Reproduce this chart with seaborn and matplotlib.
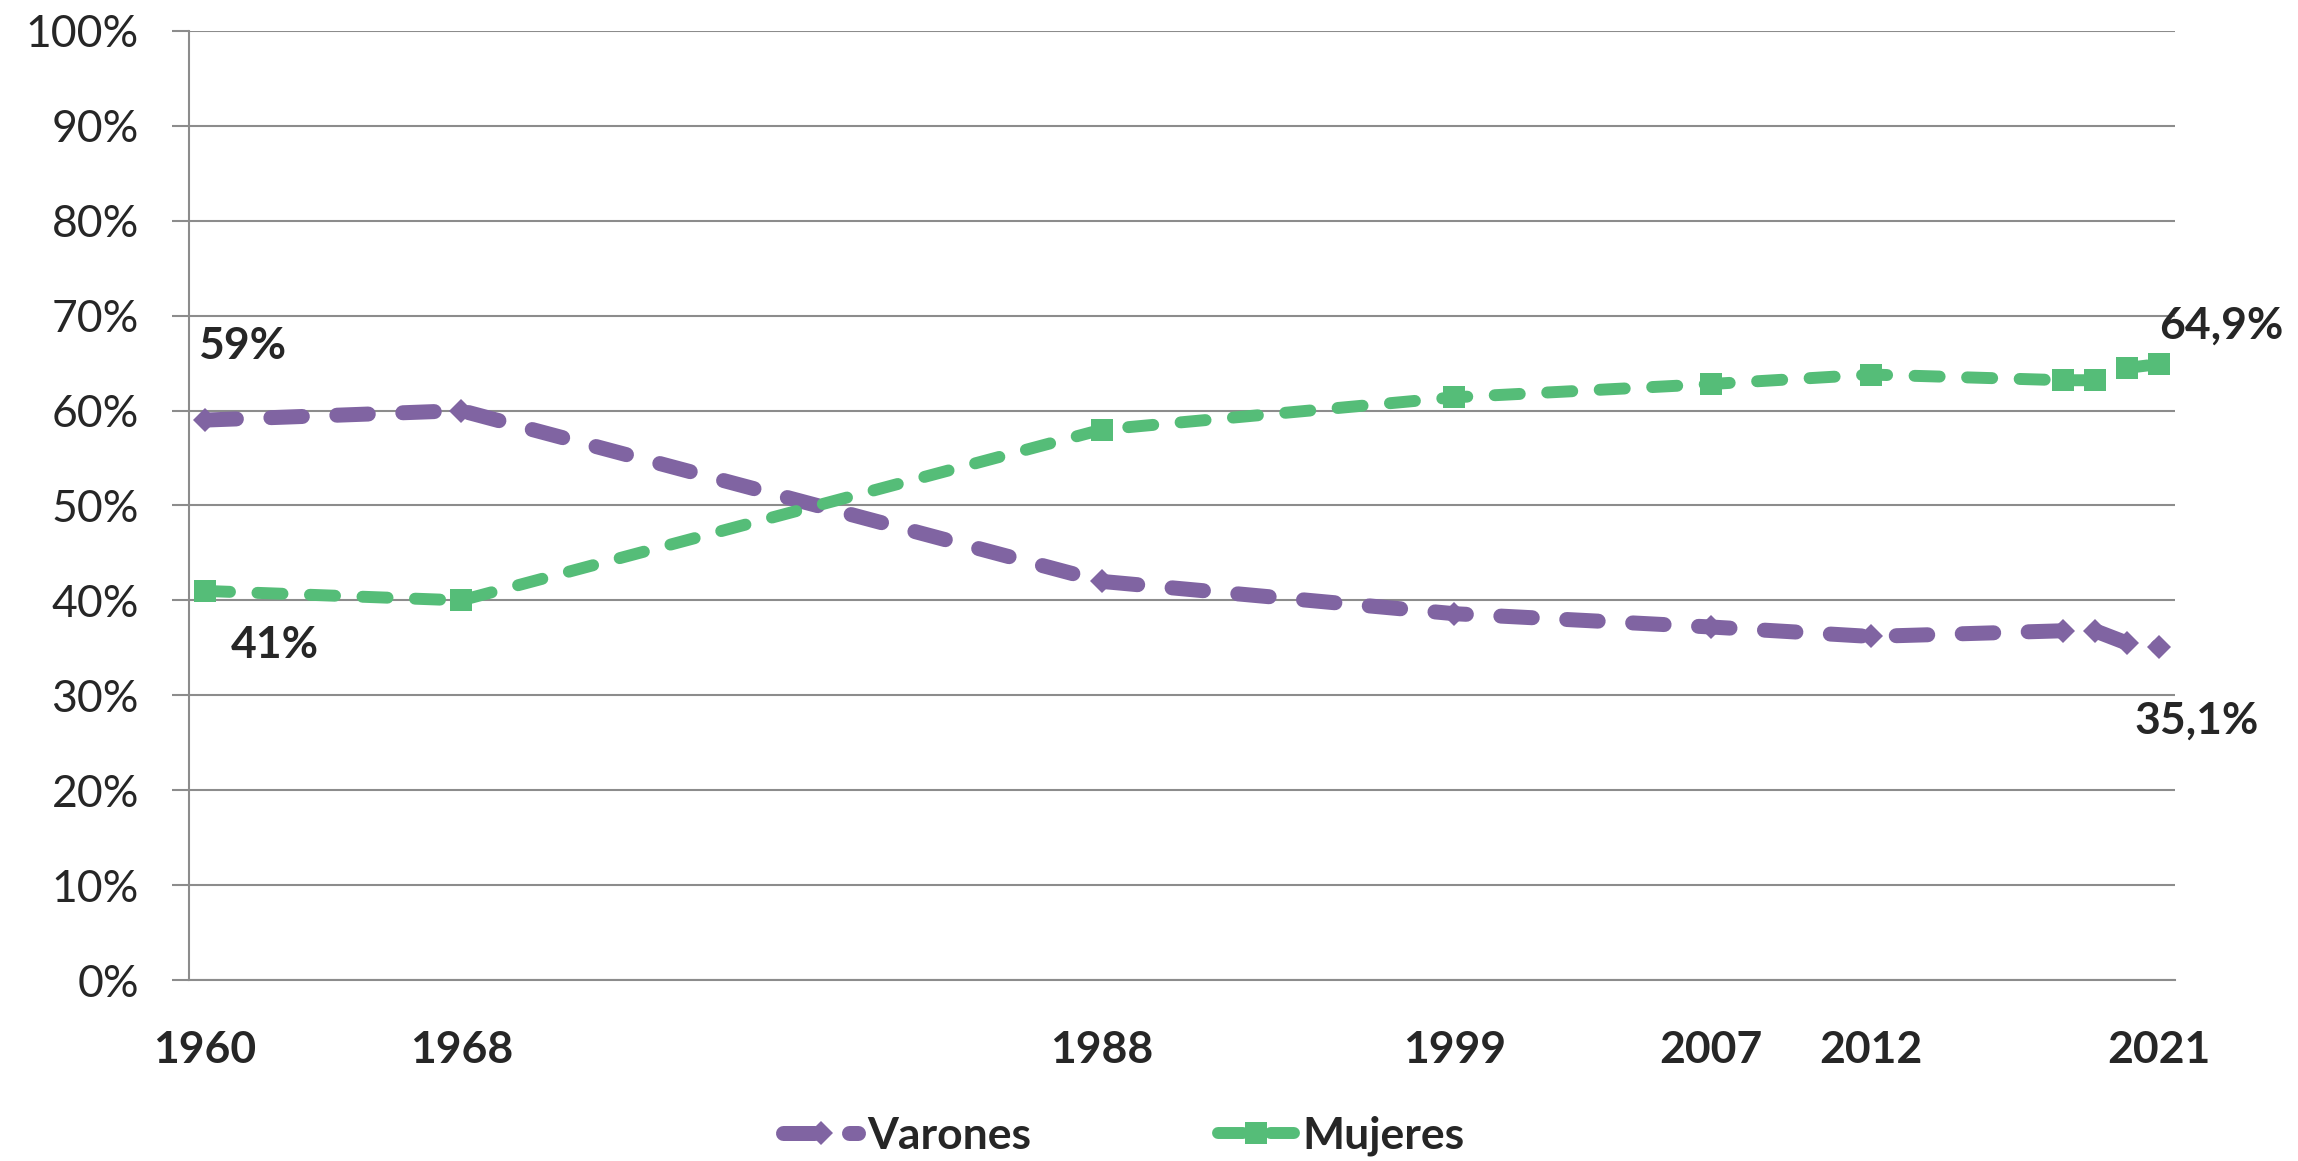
import numpy as np
import pandas as pd
import matplotlib
matplotlib.use("Agg")
import matplotlib.pyplot as plt
from matplotlib.ticker import FixedLocator, FuncFormatter
import seaborn as sns

# Datos (porcentaje por sexo)
anios = [1960, 1968, 1988, 1999, 2007, 2012, 2018, 2019, 2020, 2021]
varones = [59.0, 60.0, 42.0, 38.6, 37.2, 36.2, 36.8, 36.8, 35.5, 35.1]
mujeres = [41.0, 40.0, 58.0, 61.4, 62.8, 63.8, 63.2, 63.2, 64.5, 64.9]
anios_etiqueta = [1960, 1968, 1988, 1999, 2007, 2012, 2021]
y_ticks = list(range(0, 101, 10))

color_varones = "#8064A2"
color_mujeres = "#55BD78"
gris = "#8C8C8C"

df = pd.DataFrame({"anio": anios, "Varones": varones, "Mujeres": mujeres})

sns.set_style("white")
plt.rcParams["font.family"] = ["Lato", "DejaVu Sans"]

fig, ax = plt.subplots(figsize=(22.98, 11.61), dpi=100)
fig.subplots_adjust(left=0.0822, right=0.9465, top=0.9733, bottom=0.1559)

sns.lineplot(data=df, x="anio", y="Varones", ax=ax, color=color_varones,
             marker="D", markersize=12, markeredgewidth=0, linewidth=10.8,
             label="Varones", zorder=3)
sns.lineplot(data=df, x="anio", y="Mujeres", ax=ax, color=color_mujeres,
             marker="s", markersize=16, markeredgewidth=0, linewidth=8.6,
             label="Mujeres", zorder=4)

for ln in ax.lines:
    ln.set_dashes((2.1, 2.3))
    ln.set_dash_capstyle("round")
    ln.set_solid_capstyle("round")

# Ejes
ax.set_xlim(1959.5, 2021.5)
ax.set_ylim(0, 100)
ax.set_yticks(y_ticks)
ax.yaxis.set_major_formatter(FuncFormatter(lambda v, p: f"{v:.0f}%"))
ax.set_xticks(anios_etiqueta)
ax.set_xticklabels([str(a) for a in anios_etiqueta], fontweight="bold")
ax.xaxis.set_minor_locator(FixedLocator(np.arange(1959.5, 2022, 1)))
ax.tick_params(axis="x", which="major", length=0, pad=36, labelsize=32)
ax.tick_params(axis="x", which="minor", length=12, width=1.5, color=gris, direction="out")
ax.tick_params(axis="y", which="major", length=12, width=1.5, color=gris, pad=24,
               labelsize=32, left=True)
ax.set_xlabel("")
ax.set_ylabel("")

ax.grid(axis="y", color=gris, linewidth=1.5)
ax.grid(axis="x", visible=False)
for s in ["top", "right"]:
    ax.spines[s].set_visible(False)
for s in ["left", "bottom"]:
    ax.spines[s].set_color(gris)
    ax.spines[s].set_linewidth(1.5)

# Etiquetas de valores extremos
def etiqueta(x, y, texto, dx, dy):
    ax.annotate(texto, xy=(x, y), xytext=(dx, dy), textcoords="offset points",
                ha="center", va="center", fontsize=32, fontweight="bold",
                annotation_clip=False)

etiqueta(anios[0], varones[0], "59%", 27, 53)
etiqueta(anios[0], mujeres[0], "41%", 50, -39)
etiqueta(anios[-1], mujeres[-1], "64,9%", 45, 28)
etiqueta(anios[-1], varones[-1], "35,1%", 27, -53)

# Leyenda
handles, labels = ax.get_legend_handles_labels()
ax.get_legend().remove()
fig.legend(handles, labels, loc="center", bbox_to_anchor=(0.489, 0.0215), ncol=2,
           frameon=False, handlelength=1.7, columnspacing=4.2, handletextpad=0.2,
           prop={"size": 32, "weight": "bold"})

fig.savefig("out.png", dpi=100)
